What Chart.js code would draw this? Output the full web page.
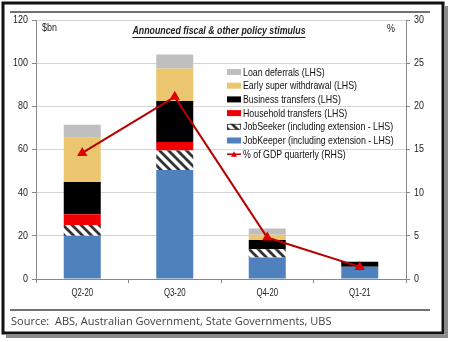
<!DOCTYPE html>
<html>
<head>
<meta charset="UTF-8">
<title>Announced fiscal & other policy stimulus</title>
<script src="https://cdn.jsdelivr.net/npm/chart.js@4.4.0/dist/chart.umd.min.js"></script>
<style>
    body { margin: 0; background: #fff; }
    canvas { display: block; }
</style>
</head>
<body>
<canvas id="stimulus" width="450" height="342"></canvas>
<script>
    // values ($bn, stacked bottom-up) and % of GDP
    var quarters = ['Q2-20', 'Q3-20', 'Q4-20', 'Q1-21'];
    var jobKeeper = [20, 50.5, 10, 5.7];
    var jobSeeker = [5, 9, 3.8, 0];
    var household = [5, 4, 0, 0];
    var business = [15, 19, 4.3, 2.3];
    var earlySuper = [20.5, 15, 2.4, 0];
    var loanDeferrals = [6, 6.5, 2.9, 0];
    var gdpShare = [14.6, 21.1, 4.8, 1.4];
    var lhsTicks = [0, 20, 40, 60, 80, 100, 120];
    var rhsTicks = [0, 5, 10, 15, 20, 25, 30];

    var sans = 'Arial, "Liberation Sans", sans-serif';
    var canvas = document.getElementById('stimulus');
    var ctx = canvas.getContext('2d');

    // diagonal hatching for JobSeeker
    function makeHatch() {
        var t = document.createElement('canvas');
        t.width = 9; t.height = 9;
        var g = t.getContext('2d');
        g.fillStyle = '#fff';
        g.fillRect(0, 0, 9, 9);
        g.strokeStyle = '#333';
        g.lineWidth = 2.8;
        g.beginPath();
        g.moveTo(-2, -2); g.lineTo(11, 11);
        g.moveTo(-2, 7); g.lineTo(2, 11);
        g.moveTo(7, -2); g.lineTo(11, 2);
        g.stroke();
        return ctx.createPattern(t, 'repeat');
    }
    var hatch = makeHatch();

    // the original uses a narrow face, so squeeze text horizontally
    function squeezed(g, text, x, y, align, font, sx) {
        g.save();
        g.font = font;
        g.textAlign = align;
        g.textBaseline = 'middle';
        g.translate(x, y);
        g.scale(sx, 1);
        g.fillText(text, 0, 0);
        var w = g.measureText(text).width * sx;
        g.restore();
        return w;
    }

    // frame, title, units, source, tick labels and the legend
    var decorations = {
        id: 'decorations',
        beforeDraw: function (c) {
            var g = c.ctx;
            g.save();
            g.fillStyle = '#fff';
            g.fillRect(0, 0, c.width, c.height);
            g.fillStyle = '#8a8a8a';
            g.fillRect(6, 335, 442, 3);
            g.fillRect(445, 6, 3, 332);
            g.strokeStyle = '#111';
            g.lineWidth = 3;
            g.strokeRect(3, 3, 440, 330);
            g.strokeStyle = '#444';
            g.lineWidth = 1.3;
            g.beginPath();
            g.moveTo(10, 12); g.lineTo(430, 12);
            g.moveTo(10, 310); g.lineTo(430, 310);
            g.stroke();
            g.restore();
        },
        afterDraw: function (c) {
            var g = c.ctx;
            var tickFont = '10.5px ' + sans;
            g.save();
            g.fillStyle = '#222';

            // tick labels from the scales
            c.scales.y.ticks.forEach(function (t) {
                squeezed(g, String(t.value), 28, c.scales.y.getPixelForValue(t.value), 'right', tickFont, 0.85);
            });
            c.scales.y2.ticks.forEach(function (t) {
                squeezed(g, String(t.value), 414, c.scales.y2.getPixelForValue(t.value), 'left', tickFont, 0.85);
            });
            quarters.forEach(function (q, i) {
                squeezed(g, q, c.scales.x.getPixelForTick(i), 293, 'center', '10px ' + sans, 0.78);
            });

            squeezed(g, '$bn', 42, 28, 'left', '10.5px ' + sans, 0.85);
            squeezed(g, '%', 387, 29, 'left', '10.5px ' + sans, 0.85);

            var title = 'Announced fiscal & other policy stimulus';
            var w = squeezed(g, title, 219, 31, 'center', 'italic bold 11px ' + sans, 0.8);
            g.strokeStyle = '#222';
            g.lineWidth = 1;
            g.beginPath();
            g.moveTo(219 - w / 2, 37.5); g.lineTo(219 + w / 2, 37.5);
            g.stroke();

            g.font = '11px "Open Sans", sans-serif';
            g.textAlign = 'left';
            g.textBaseline = 'middle';
            g.fillStyle = '#404040';
            g.fillText('Source:  ABS, Australian Government, State Governments, UBS', 11, 322);

            // legend
            var order = [5, 4, 3, 2, 1, 0, 6];
            order.forEach(function (idx, row) {
                var ds = c.data.datasets[idx];
                var y = 72 + row * 13.7;
                if (ds.type === 'line') {
                    g.strokeStyle = ds.borderColor;
                    g.lineWidth = 1.5;
                    g.beginPath();
                    g.moveTo(227, y); g.lineTo(241, y);
                    g.stroke();
                    g.fillStyle = ds.pointBackgroundColor;
                    g.beginPath();
                    g.moveTo(234, y - 3); g.lineTo(237, y + 2.5); g.lineTo(231, y + 2.5);
                    g.closePath();
                    g.fill();
                } else {
                    g.fillStyle = ds.backgroundColor;
                    g.fillRect(227, y - 3, 14, 6);
                    if (ds.backgroundColor === hatch) {
                        g.strokeStyle = '#333';
                        g.lineWidth = 0.8;
                        g.strokeRect(227.5, y - 2.5, 13, 5);
                    }
                }
                g.fillStyle = '#111';
                squeezed(g, ds.label, 243, y + 0.5, 'left', '11px ' + sans, 0.8);
            });
            g.restore();
        }
    };

    var gridColor = '#d4d4d4';

    new Chart(ctx, {
        type: 'bar',
        data: {
            labels: quarters,
            datasets: [
                { label: 'JobKeeper (including extension - LHS)', data: jobKeeper, backgroundColor: '#4f81bd', order: 1 },
                { label: 'JobSeeker (including extension - LHS)', data: jobSeeker, backgroundColor: hatch, order: 1 },
                { label: 'Household transfers (LHS)', data: household, backgroundColor: '#f00000', order: 1 },
                { label: 'Business transfers (LHS)', data: business, backgroundColor: '#000000', order: 1 },
                { label: 'Early super withdrawal (LHS)', data: earlySuper, backgroundColor: '#ebc66e', order: 1 },
                { label: 'Loan deferrals (LHS)', data: loanDeferrals, backgroundColor: '#bfbfbf', order: 1 },
                {
                    type: 'line', label: '% of GDP quarterly (RHS)', data: gdpShare, yAxisID: 'y2',
                    borderColor: '#b80000', borderWidth: 2, pointStyle: 'triangle', pointRadius: 4,
                    pointBackgroundColor: '#e00000', pointBorderColor: '#e00000', order: 0
                }
            ]
        },
        options: {
            responsive: false,
            animation: false,
            devicePixelRatio: 1,
            layout: { padding: { top: 20, left: 0, right: 0, bottom: 0 } },
            datasets: { bar: { categoryPercentage: 1, barPercentage: 0.4 } },
            plugins: { legend: { display: false }, tooltip: { enabled: false } },
            scales: {
                x: {
                    stacked: true,
                    grid: { drawOnChartArea: false, drawTicks: true, tickLength: 4, color: '#888', offset: true },
                    border: { color: '#888' },
                    ticks: { display: false },
                    afterFit: function (s) { s.height = 63; }
                },
                y: {
                    stacked: true, min: 0, max: 120,
                    afterBuildTicks: function (s) { s.ticks = lhsTicks.map(function (v) { return { value: v }; }); },
                    grid: { color: gridColor, tickColor: '#888', tickLength: 4 },
                    border: { color: '#888' },
                    ticks: { display: false },
                    afterFit: function (s) { s.width = 36; }
                },
                y2: {
                    position: 'right', min: 0, max: 30,
                    afterBuildTicks: function (s) { s.ticks = rhsTicks.map(function (v) { return { value: v }; }); },
                    grid: { drawOnChartArea: false, tickColor: '#888', tickLength: 4 },
                    border: { color: '#888' },
                    ticks: { display: false },
                    afterFit: function (s) { s.width = 44; }
                }
            }
        },
        plugins: [decorations]
    });
</script>
</body>
</html>
